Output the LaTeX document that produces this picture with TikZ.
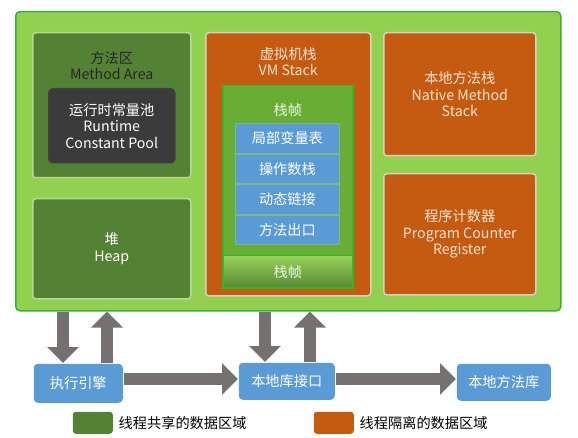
\documentclass[tikz,border=0pt]{standalone}
\usepackage{fontspec}
\setmainfont{Noto Sans CJK SC}
\usetikzlibrary{positioning}
\usetikzlibrary{arrows.meta}
\definecolor{jvmgreen}{HTML}{92D050}
\definecolor{jvmedge}{HTML}{3AB03A}
\definecolor{sharegreen}{HTML}{548235}
\definecolor{shareedge}{HTML}{B4D89A}
\definecolor{poolgray}{HTML}{3B3B3B}
\definecolor{threadorange}{HTML}{C55A11}
\definecolor{orangeedge}{HTML}{D6D0C8}
\definecolor{orangetext}{HTML}{FCE4D0}
\definecolor{framegreen}{HTML}{6AAD35}
\definecolor{frameedge}{HTML}{2DBA2D}
\definecolor{itemblue}{HTML}{5B9BD5}
\definecolor{itemedge}{HTML}{7DB88A}
\definecolor{arrowgray}{HTML}{767171}

\begin{document}
\begin{tikzpicture}
[
x=1pt, y=-1pt,
font=\fontsize{14.2pt}{16.5pt}\selectfont,
area-a/.style={rectangle,draw,anchor=north west,inner sep=0pt,line width=1.5pt,align=center},
share-a/.style={area-a,fill=sharegreen,draw=shareedge,rounded corners=3pt},
thread-a/.style={area-a,fill=threadorange,draw=orangeedge,rounded corners=3pt,text=orangetext},
item-a/.style={rectangle,fill=itemblue,draw=itemedge,line width=0.8pt,text=white,
  minimum width=104pt,minimum height=29.75pt,inner sep=0pt},
blue-a/.style={area-a,fill=itemblue,draw=none,rounded corners=4pt,text=white},
text-a/.style={inner sep=0pt,align=center},
block-a/.style={draw=arrowgray,line width=12pt,-{Triangle[width=31pt,length=16pt]}},
]
\useasboundingbox (0,0) rectangle (578,438);
% runtime data areas
\node (jvm) [area-a, fill=jvmgreen, draw=jvmedge, rounded corners=4pt,
  minimum width=545pt, minimum height=299pt] at (15,11) {};
\node (method) [share-a, minimum width=158pt, minimum height=145pt] at (32,32) {};
\node (methodtxt) [text-a, text=black!85, below = 19pt of method.north] {方法区\\Method Area};
\node (pool) [area-a, fill=poolgray, draw=black!75, rounded corners=4pt, text=white,
  minimum width=126pt, minimum height=74pt] at (48,88) {运行时常量池\\Runtime\\Constant Pool};
\node (heap) [share-a, text=white, minimum width=158pt, minimum height=100pt] at (32,198) {堆\\Heap};
\node (vmstack) [thread-a, minimum width=165pt, minimum height=263pt] at (205,32) {};
\node (vmtxt) [text-a, text=orangetext, below = 15pt of vmstack.north] {虚拟机栈\\VM Stack};
\node (frame) [area-a, fill=framegreen, draw=frameedge, minimum width=130pt, minimum height=170pt] at (222,85) {};
\node (frametxt) [text-a, text=white!92!green, below = 18pt of frame.north] {栈帧};
\node (item1) [item-a, anchor=north west] at (235,123) {局部变量表};
\node (item2) [item-a, below = 0pt of item1] {操作数栈};
\node (item3) [item-a, below = 0pt of item2] {动态链接};
\node (item4) [item-a, below = 0pt of item3] {方法出口};
\node (framebar) [area-a, draw=frameedge, top color=jvmgreen!95!white, bottom color=sharegreen!85!framegreen,
  text=white!92!green, minimum width=130pt, minimum height=32pt] at (222,255) {栈帧};
\node (native) [thread-a, minimum width=152pt, minimum height=123pt] at (383,32) {本地方法栈\\Native Method\\Stack};
\node (pc) [thread-a, minimum width=152pt, minimum height=121pt] at (383,173) {程序计数器\\Program Counter\\Register};
% execution side
\node (exec) [blue-a, minimum width=89pt, minimum height=39pt] at (33,363) {执行引擎};
\node (iface) [blue-a, minimum width=96pt, minimum height=37pt] at (238,362) {本地库接口};
\node (nlib) [blue-a, minimum width=94pt, minimum height=37pt] at (456,363) {本地方法库};
\coordinate (c1) at (63,0);
\coordinate (c2) at (107,0);
\coordinate (c3) at (265,0);
\coordinate (c4) at (310,0);
\coordinate (c5) at (0,379);
\draw [block-a] (jvm.south -| c1) -- (exec.north -| c1);
\draw [block-a] (exec.north -| c2) -- (jvm.south -| c2);
\draw [block-a] (jvm.south -| c3) -- (iface.north -| c3);
\draw [block-a] (iface.north -| c4) -- (jvm.south -| c4);
\draw [block-a] (exec.east |- c5) -- (iface.west |- c5);
\draw [block-a] (iface.east |- c5) -- (nlib.west |- c5);
% legend
\node (keyshare) [area-a, fill=sharegreen, draw=none, rounded corners=3pt,
  minimum width=40pt, minimum height=22pt] at (72,411) {};
\node (keysharetxt) [text-a, right = 5pt of keyshare] {线程共享的数据区域};
\node (keythread) [area-a, fill=threadorange, draw=none, rounded corners=3pt,
  minimum width=40pt, minimum height=22pt] at (313,411) {};
\node (keythreadtxt) [text-a, right = 5pt of keythread] {线程隔离的数据区域};
\end{tikzpicture}
\end{document}
